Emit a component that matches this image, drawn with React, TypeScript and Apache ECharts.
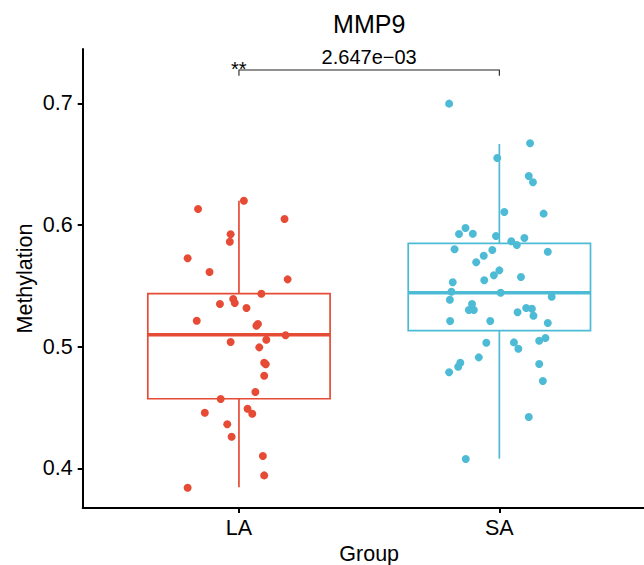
import React, { useEffect, useRef } from "react";
import * as echarts from "echarts";

// ---- data ----
const CATEGORIES = ["LA", "SA"];
const CATEGORY_POS = [1, 2];
const Y_TICKS = [0.4, 0.5, 0.6, 0.7];

// box statistics: [lower whisker, Q1, median, Q3, upper whisker]
const LA_STATS = [0.3844, 0.4572, 0.5098, 0.5435, 0.6199];
const SA_STATS = [0.4079, 0.5131, 0.5443, 0.5849, 0.6665];

// jittered points (x = group position + jitter, y = methylation)
const LA_X = [1.019, 0.843, 1.175, 0.968, 0.965, 0.803, 0.887, 1.187, 1.086, 0.978, 0.984, 0.927, 1.029, 0.838, 1.073, 1.067, 1.179, 1.105, 0.968, 1.078, 1.097, 1.103, 1.097, 1.063, 0.93, 1.033, 1.051, 0.869, 0.955, 0.972, 1.092, 1.097, 0.803];
const LA_Y = [0.6199, 0.6131, 0.6049, 0.5923, 0.5862, 0.5726, 0.5613, 0.5553, 0.5435, 0.5391, 0.5359, 0.535, 0.5317, 0.5213, 0.5186, 0.5172, 0.5093, 0.5057, 0.5038, 0.4994, 0.4868, 0.4855, 0.4761, 0.4627, 0.457, 0.449, 0.4449, 0.4457, 0.4362, 0.426, 0.4101, 0.3942, 0.3841];

const SA_X = [1.807, 2.118, 1.992, 2.113, 2.129, 2.019, 2.17, 1.87, 1.845, 1.898, 1.987, 2.096, 2.046, 2.067, 1.828, 2.186, 1.973, 1.94, 1.911, 2.0, 1.979, 2.083, 1.942, 1.821, 1.816, 2.005, 2.201, 1.81, 1.895, 1.883, 1.902, 2.103, 2.125, 2.07, 2.131, 1.811, 1.965, 2.186, 2.153, 2.177, 1.95, 2.056, 2.073, 1.921, 1.85, 1.842, 1.807, 2.153, 2.167, 2.113, 1.871];
const SA_Y = [0.6997, 0.6671, 0.655, 0.6402, 0.6351, 0.6107, 0.6093, 0.5975, 0.5926, 0.5928, 0.5909, 0.5893, 0.5866, 0.5835, 0.58, 0.578, 0.5794, 0.5747, 0.5693, 0.5627, 0.5586, 0.5572, 0.5545, 0.5529, 0.5451, 0.5443, 0.541, 0.5386, 0.535, 0.5301, 0.5301, 0.5318, 0.5312, 0.5282, 0.5254, 0.5211, 0.5211, 0.5194, 0.5049, 0.5071, 0.5032, 0.5035, 0.4983, 0.4912, 0.4868, 0.4835, 0.4789, 0.4857, 0.4718, 0.4422, 0.4077];

// comparison bracket: [x1, x2, y top, y tick end]
const BRACKET = [1, 2, 0.7274, 0.7227];
const P_LABEL = "2.647e\u221203";
const SIG_LABEL = "**";

const TITLE = "MMP9";
const X_TITLE = "Group";
const Y_TITLE = "Methylation";

const COLORS = ["#E64B35", "#4DBBD5"];
const BOX_HALF = 0.35;
const FONT = "Liberation Sans, Arial, Helvetica, sans-serif";

export default function App() {
  const ref = useRef<HTMLDivElement>(null);

  useEffect(() => {
    if (!ref.current) return;
    const chart = echarts.init(ref.current, null, { renderer: "svg" });

    const boxData = [
      [CATEGORY_POS[0], ...LA_STATS],
      [CATEGORY_POS[1], ...SA_STATS],
    ];

    const option: any = {
      animation: false,
      backgroundColor: "#ffffff",
      grid: {
        left: 82.7,
        top: 49,
        width: 572.9,
        height: 459,
        containLabel: false,
        outerBoundsMode: "none",
      },
      xAxis: {
        type: "value",
        min: 0.4,
        max: 2.6,
        splitLine: { show: false },
        axisLine: { show: true, onZero: false, lineStyle: { color: "#000", width: 2 } },
        axisTick: {
          show: true,
          customValues: CATEGORY_POS,
          length: 5,
          lineStyle: { color: "#000", width: 2 },
        },
        axisLabel: {
          show: true,
          customValues: CATEGORY_POS,
          formatter: (v: number) => CATEGORIES[CATEGORY_POS.indexOf(v)] ?? "",
          color: "#000",
          fontSize: 21.5,
          fontFamily: FONT,
          margin: 9,
        },
      },
      yAxis: {
        type: "value",
        min: 0.3674,
        max: 0.7446,
        splitLine: { show: false },
        axisLine: { show: true, onZero: false, lineStyle: { color: "#000", width: 2 } },
        axisTick: {
          show: true,
          customValues: Y_TICKS,
          length: 5,
          lineStyle: { color: "#000", width: 2 },
        },
        axisLabel: {
          show: true,
          customValues: Y_TICKS,
          formatter: (v: number) => v.toFixed(1),
          color: "#000",
          fontSize: 21.5,
          fontFamily: FONT,
          margin: 10,
        },
      },
      graphic: [
        {
          type: "text",
          x: 369.2,
          y: 23.7,
          style: {
            text: TITLE,
            font: `25px ${FONT}`,
            fill: "#000",
            align: "center",
            verticalAlign: "middle",
          },
        },
        {
          type: "text",
          x: 369.2,
          y: 553.5,
          style: {
            text: X_TITLE,
            font: `21.5px ${FONT}`,
            fill: "#000",
            align: "center",
            verticalAlign: "middle",
          },
        },
        {
          type: "text",
          x: 25,
          y: 278.5,
          rotation: Math.PI / 2,
          style: {
            text: Y_TITLE,
            font: `21.5px ${FONT}`,
            fill: "#000",
            align: "center",
            verticalAlign: "middle",
          },
        },
      ],
      series: [
        {
          type: "custom",
          data: boxData,
          encode: { x: 0, y: [1, 2, 3, 4, 5] },
          z: 2,
          renderItem: (params: any, api: any) => {
            const x = api.value(0);
            const lo = api.value(1);
            const q1 = api.value(2);
            const med = api.value(3);
            const q3 = api.value(4);
            const hi = api.value(5);
            const color = COLORS[params.dataIndex];
            const c = api.coord([x, med]);
            const tl = api.coord([x - BOX_HALF, q3]);
            const br = api.coord([x + BOX_HALF, q1]);
            const yLo = api.coord([x, lo])[1];
            const yHi = api.coord([x, hi])[1];
            const lw = 1.7;
            return {
              type: "group",
              children: [
                { type: "line", shape: { x1: c[0], y1: yHi, x2: c[0], y2: tl[1] }, style: { stroke: color, lineWidth: lw } },
                { type: "line", shape: { x1: c[0], y1: br[1], x2: c[0], y2: yLo }, style: { stroke: color, lineWidth: lw } },
                {
                  type: "rect",
                  shape: { x: tl[0], y: tl[1], width: br[0] - tl[0], height: br[1] - tl[1] },
                  style: { fill: "none", stroke: color, lineWidth: lw },
                },
                { type: "line", shape: { x1: tl[0], y1: c[1], x2: br[0], y2: c[1] }, style: { stroke: color, lineWidth: 3.6 } },
              ],
            };
          },
        },
        {
          type: "custom",
          data: [BRACKET],
          encode: { x: [0, 1], y: [2, 3] },
          z: 3,
          renderItem: (params: any, api: any) => {
            const p1 = api.coord([api.value(0), api.value(3)]);
            const p2 = api.coord([api.value(0), api.value(2)]);
            const p3 = api.coord([api.value(1), api.value(2)]);
            const p4 = api.coord([api.value(1), api.value(3)]);
            return {
              type: "group",
              children: [
                {
                  type: "polyline",
                  shape: { points: [p1, p2, p3, p4] },
                  style: { stroke: "#222", lineWidth: 1.1, fill: "none" },
                },
                {
                  type: "text",
                  x: (p2[0] + p3[0]) / 2,
                  y: p2[1] - 12.5,
                  style: {
                    text: P_LABEL,
                    font: `20px ${FONT}`,
                    fill: "#000",
                    align: "center",
                    verticalAlign: "middle",
                  },
                },
                {
                  type: "text",
                  x: p2[0] - 8,
                  y: p2[1] - 1,
                  style: {
                    text: SIG_LABEL,
                    font: `20px ${FONT}`,
                    fill: "#000",
                    align: "left",
                    verticalAlign: "middle",
                  },
                },
              ],
            };
          },
        },
        {
          type: "scatter",
          data: LA_X.map((x, i) => [x, LA_Y[i]]),
          symbol: "circle",
          symbolSize: 8,
          itemStyle: { color: COLORS[0], opacity: 1 },
          z: 4,
        },
        {
          type: "scatter",
          data: SA_X.map((x, i) => [x, SA_Y[i]]),
          symbol: "circle",
          symbolSize: 8,
          itemStyle: { color: COLORS[1], opacity: 1 },
          z: 4,
        },
      ],
    };

    chart.setOption(option);
    return () => chart.dispose();
  }, []);

  return (
    <div
      ref={ref}
      style={{ position: "fixed", left: 0, top: 0, width: 644, height: 565, background: "#fff" }}
    />
  );
}
